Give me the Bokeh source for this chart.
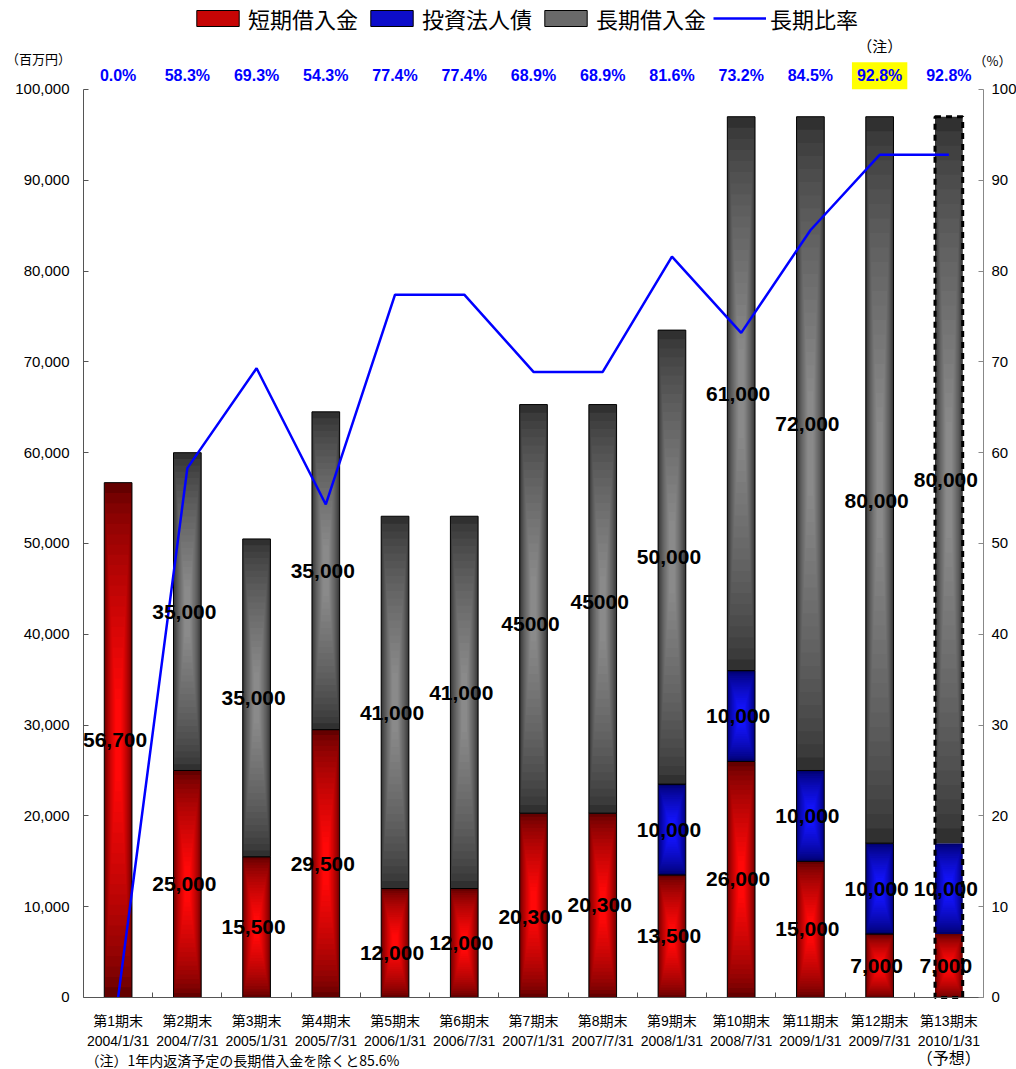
import numpy as np
from bokeh.plotting import figure
from bokeh.models import (ColumnDataSource, Range1d, LinearAxis, FixedTicker,
                          NumeralTickFormatter, Legend, LegendItem, LabelSet, Label)
from bokeh.core.properties import value
from bokeh.embed import file_html
from bokeh.resources import INLINE

# ---------------- data ----------------
periods = ["第1期末", "第2期末", "第3期末", "第4期末", "第5期末", "第6期末", "第7期末",
           "第8期末", "第9期末", "第10期末", "第11期末", "第12期末", "第13期末"]
dates = ["2004/1/31", "2004/7/31", "2005/1/31", "2005/7/31", "2006/1/31", "2006/7/31",
         "2007/1/31", "2007/7/31", "2008/1/31", "2008/7/31", "2009/1/31", "2009/7/31",
         "2010/1/31"]
short_term = [56700, 25000, 15500, 29500, 12000, 12000, 20300, 20300, 13500, 26000, 15000, 7000, 7000]
bonds = [0, 0, 0, 0, 0, 0, 0, 0, 10000, 10000, 10000, 10000, 10000]
long_term = [0, 35000, 35000, 35000, 41000, 41000, 45000, 45000, 50000, 61000, 72000, 80000, 80000]
long_ratio = [0.0, 58.3, 69.3, 54.3, 77.4, 77.4, 68.9, 68.9, 81.6, 73.2, 84.5, 92.8, 92.8]
long_labels = ["", "35,000", "35,000", "35,000", "41,000", "41,000", "45000", "45000",
               "50,000", "61,000", "72,000", "80,000", "80,000"]
forecast = [False] * 12 + [True]
highlight = [False] * 11 + [True, False]
note_text = "（注）1年内返済予定の長期借入金を除くと85.6%"

# label nudges in pixels (style only)
short_nudge = {4: -10, 6: -12}
long_nudge = {4: -11, 5: 9, 6: -15, 7: 7, 10: 20, 11: -21}

FONT = "'Liberation Sans', Arial, sans-serif"
JP = "'Noto Sans CJK JP', sans-serif"
MIX = "'Liberation Sans', 'Noto Sans CJK JP', sans-serif"

n = len(periods)
xs = np.arange(n) + 0.5          # category centres on a linear scale
cat_labels = [f"{a}\n{b}" for a, b in zip(periods, dates)]
YMAX = 100000
PMAX = 100

# frame covers whole canvas; axes are pinned with fixed_location
p = figure(width=1016, height=1069, x_range=Range1d(-1.199, 13.477),
           y_range=Range1d(-7930, 109800),
           x_axis_location=None, y_axis_location=None, output_backend="svg",
           toolbar_location=None, min_border=0)
p.outline_line_color = None
p.background_fill_color = "white"
p.grid.grid_line_color = None
p.extra_y_ranges = {"pct": Range1d(-7930 * PMAX / YMAX, 109800 * PMAX / YMAX)}

# ---------------- axes ----------------
ly = LinearAxis(ticker=FixedTicker(ticks=list(range(0, YMAX + 1, 10000))),
                formatter=NumeralTickFormatter(format="0,0"), fixed_location=0,
                bounds=(0, YMAX))
ly.major_tick_in = 5
ly.major_tick_out = 0
ly.minor_tick_line_color = None
ly.axis_line_color = "#555555"
ly.major_tick_line_color = "#555555"
ly.major_label_text_font = FONT
ly.major_label_text_font_size = "15px"
ly.major_label_text_color = "black"
ly.major_label_standoff = 14
p.add_layout(ly, "left")

ry = LinearAxis(y_range_name="pct", ticker=FixedTicker(ticks=list(range(0, PMAX + 1, 10))),
                fixed_location=n, bounds=(0, PMAX))
ry.major_tick_in = 5
ry.major_tick_out = 0
ry.minor_tick_line_color = None
ry.axis_line_color = "#888888"
ry.major_tick_line_color = "#888888"
ry.major_label_text_font = FONT
ry.major_label_text_font_size = "15px"
ry.major_label_text_color = "black"
ry.major_label_standoff = 8
p.add_layout(ry, "right")

bx = LinearAxis(ticker=FixedTicker(ticks=list(xs), minor_ticks=list(range(1, n))),
                fixed_location=0, bounds=(0, n))
bx.major_label_overrides = {float(x): lab for x, lab in zip(xs, cat_labels)}
bx.major_tick_line_color = None
bx.minor_tick_in = 5
bx.minor_tick_out = 0
bx.minor_tick_line_color = "#555555"
bx.axis_line_color = "#555555"
bx.major_label_text_font = MIX
bx.major_label_text_font_size = "14px"
bx.major_label_text_color = "black"
bx.major_label_standoff = 10
p.add_layout(bx, "below")

# ---------------- bars ----------------
short = np.array(short_term, dtype=float)
bond = np.array(bonds, dtype=float)
longv = np.array(long_term, dtype=float)
total = short + bond + longv

series = [
    ("短期借入金", short, np.zeros(n), [f"{v:,}" for v in short_term], short_nudge,
     (100, 0, 0), (255, 8, 8)),
    ("投資法人債", bond, short, [f"{v:,}" for v in bonds], {},
     (0, 0, 110), (20, 20, 255)),
    ("長期借入金", longv, short + bond, long_labels, long_nudge,
     (48, 48, 48), (138, 138, 138)),
]

NL = 22
W = 0.4


def mix(c0, c1, t):
    return "#%02x%02x%02x" % tuple(int(round(a + (b - a) * t)) for a, b in zip(c0, c1))


legend_items = []
for name, vals, base, labels, nudge, dark, bright in series:
    idx = [i for i in range(n) if vals[i] > 0]
    bot = np.array([base[i] for i in idx])
    top = np.array([base[i] + vals[i] for i in idx])
    h = top - bot
    data = dict(
        x=[xs[i] for i in idx],
        bottom=bot, top=top, mid=(bot + top) / 2,
        label=[labels[i] for i in idx],
        lalpha=[0.0 if forecast[i] else 1.0 for i in idx],
        yoff=[nudge.get(i, 0) for i in idx],
    )
    for k in range(NL):
        t = k / (NL - 1)
        data[f"b{k}"] = bot + 0.42 * t * h
        data[f"t{k}"] = top - 0.42 * t * h
    src = ColumnDataSource(data)
    mid_r = None
    for k in range(NL):
        t = k / (NL - 1)
        r = p.vbar(x="x", bottom=f"b{k}", top=f"t{k}", width=W * (1 - 0.8 * t),
                   fill_color=mix(dark, bright, t ** 0.7), line_color=None, source=src)
        if k == NL // 2:
            mid_r = r
    outl = p.vbar(x="x", bottom="bottom", top="top", width=W, fill_color=None,
                  line_color="black", line_alpha="lalpha", line_width=1, source=src)
    legend_items.append(LegendItem(label=name, renderers=[mid_r, outl]))
    p.add_layout(LabelSet(x="x", y="mid", text="label", source=src, text_align="center",
                          text_baseline="middle", x_offset=-3, y_offset="yoff",
                          text_font=value(FONT), text_font_size=value("21px"),
                          text_font_style="bold", text_color="black"))

# dashed outline for forecast bar
fidx = [i for i in range(n) if forecast[i]]
fsrc = ColumnDataSource(dict(x=[xs[i] for i in fidx], top=[total[i] for i in fidx]))
p.vbar(x="x", bottom=0, top="top", width=W, fill_color=None, line_color="black",
       line_width=3, line_dash="6 5", source=fsrc)

# ---------------- ratio line ----------------
ln = p.line(x=xs, y=long_ratio, y_range_name="pct", line_color="#0000ff", line_width=2.5)
legend_items.append(LegendItem(label="長期比率", renderers=[ln]))

# percentage labels above plot
norm = [i for i in range(n) if not highlight[i]]
hi = [i for i in range(n) if highlight[i]]
s = ColumnDataSource(dict(x=[xs[i] for i in norm], y=[101500] * len(norm),
                          text=[f"{long_ratio[i]:.1f}%" for i in norm]))
p.add_layout(LabelSet(x="x", y="y", text="text", source=s, text_align="center",
                      text_baseline="middle", text_font=value(FONT),
                      text_font_size=value("16px"), text_font_style="bold",
                      text_color="#0000ff"))
for i in hi:
    p.add_layout(Label(x=xs[i], y=101500, text=f"{long_ratio[i]:.1f}%",
                       text_align="center", text_baseline="middle", text_font=FONT,
                       text_font_size="16px", text_font_style="bold", text_color="#0000ff",
                       background_fill_color="#ffff00", padding=5))
    p.add_layout(Label(x=xs[i], y=104850, text="（注）",
                       text_align="center", text_baseline="middle", text_font=JP,
                       text_font_size="15px", text_color="black"))

# misc texts
p.add_layout(Label(x=-0.65, y=103400, text="（百万円）",
                   text_align="center", text_baseline="middle", text_font=JP,
                   text_font_size="13px", text_color="black"))
p.add_layout(Label(x=n + 0.13, y=103200, text="（%）",
                   text_align="center", text_baseline="middle", text_font=JP,
                   text_font_size="13px", text_color="black"))
for i in fidx:
    p.add_layout(Label(x=xs[i], y=-6600, text="（予想）",
                       text_align="center", text_baseline="middle", text_font=JP,
                       text_font_size="16px", text_color="black"))
p.add_layout(Label(x=0.03, y=-6830, text=note_text,
                   text_align="left", text_baseline="middle", text_font=JP,
                   text_font_size="14px", text_color="black"))

# ---------------- legend ----------------
legend = Legend(items=legend_items, orientation="horizontal", location=(191, 1035),
                label_text_font=JP, label_text_font_size="22px", label_text_color="black",
                glyph_width=53, glyph_height=20, label_standoff=4, spacing=7,
                padding=0, margin=0, background_fill_alpha=0, border_line_color=None)
p.add_layout(legend)

open("out.html", "w").write(file_html(p, INLINE))
